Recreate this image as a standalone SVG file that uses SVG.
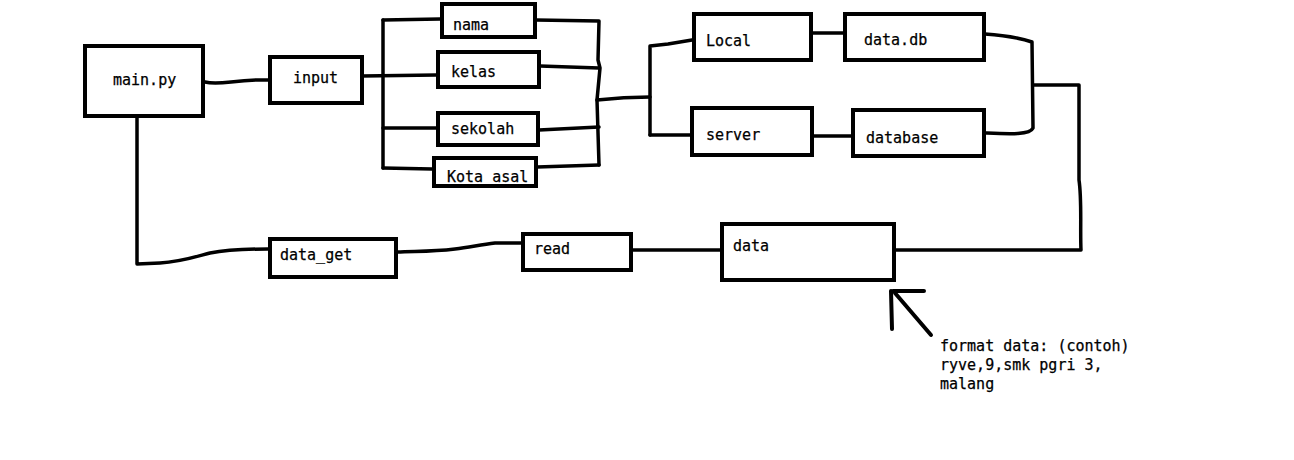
<svg xmlns="http://www.w3.org/2000/svg" width="1294" height="460" viewBox="0 0 1294 460">
  <style>
    .box { fill: #fff; stroke: #000; stroke-width: 4; }
    .wire { fill: none; stroke: #000; stroke-width: 3.5; stroke-linecap: round; stroke-linejoin: round; }
    text { font-family: "DejaVu Sans Mono", "Liberation Mono", monospace; font-size: 15px; fill: #000; stroke: #000; stroke-width: 0.25; }
  </style>
  <rect width="1294" height="460" fill="#fff"/>

  <g id="connectors">
    <!-- main.py -> input -->
    <path class="wire" d="M205,82 C220,86 235,79 268,80"/>
    <!-- input fan-out bus -->
    <path class="wire" d="M383,20 L383,168"/>
    <path class="wire" d="M383,20 L440,19"/>
    <path class="wire" d="M362,76 L436,75"/>
    <path class="wire" d="M383,128 L436,128"/>
    <path class="wire" d="M383,168 L432,169"/>
    <!-- fan-in bus -->
    <path class="wire" d="M536,20 L599,21 L598,60 L600,68 L597,100 L599,165"/>
    <path class="wire" d="M540,66 L599,68"/>
    <path class="wire" d="M539,130 L599,127"/>
    <path class="wire" d="M537,167 L599,165"/>
    <!-- storage split -->
    <path class="wire" d="M597,100 C615,98 630,97 650,97"/>
    <path class="wire" d="M650,135 L650,46 L668,44 L692,40"/>
    <path class="wire" d="M650,135 L690,135"/>
    <path class="wire" d="M812,33 L843,33"/>
    <path class="wire" d="M813,136 L851,136"/>
    <!-- storage merge -->
    <path class="wire" d="M985,34 C1000,35 1020,38 1032,42 L1033,128 C1030,135 1010,134 985,133"/>
    <path class="wire" d="M1033,85 L1079,85 L1079,180 C1082,200 1080,230 1081,250 L895,250"/>
    <!-- data -> read -> data_get -> main.py -->
    <path class="wire" d="M632,250 L720,250"/>
    <path class="wire" d="M521,243 L495,243 C480,245 470,247 455,249 C430,252 415,251 397,252"/>
    <path class="wire" d="M268,249 C250,249 225,250 210,253 C195,257 180,262 160,263 L137,264 L137,118"/>
  </g>

  <g id="main">
    <rect class="box" x="85" y="46" width="118" height="70"/>
    <text x="113" y="85">main.py</text>
  </g>
  <g id="input">
    <rect class="box" x="270" y="57" width="92" height="46"/>
    <text x="293" y="83">input</text>
  </g>
  <g id="nama">
    <rect class="box" x="442" y="4" width="93" height="33"/>
    <text x="453" y="30">nama</text>
  </g>
  <g id="kelas">
    <rect class="box" x="438" y="52" width="101" height="35"/>
    <text x="451" y="77">kelas</text>
  </g>
  <g id="sekolah">
    <rect class="box" x="438" y="113" width="100" height="32"/>
    <text x="451" y="134">sekolah</text>
  </g>
  <g id="kota-asal">
    <rect class="box" x="434" y="158" width="102" height="28"/>
    <text x="447" y="182">Kota asal</text>
  </g>
  <g id="local">
    <rect class="box" x="694" y="14" width="117" height="46"/>
    <text x="706" y="46">Local</text>
  </g>
  <g id="server">
    <rect class="box" x="692" y="108" width="120" height="47"/>
    <text x="706" y="140">server</text>
  </g>
  <g id="data-db">
    <rect class="box" x="845" y="14" width="139" height="46"/>
    <text x="864" y="45">data.db</text>
  </g>
  <g id="database">
    <rect class="box" x="853" y="110" width="131" height="46"/>
    <text x="866" y="143">database</text>
  </g>
  <g id="data">
    <rect class="box" x="722" y="224" width="172" height="56"/>
    <text x="733" y="251">data</text>
  </g>
  <g id="read">
    <rect class="box" x="523" y="234" width="108" height="36"/>
    <text x="534" y="254">read</text>
  </g>
  <g id="data-get">
    <rect class="box" x="270" y="239" width="126" height="38"/>
    <text x="280" y="260">data_get</text>
  </g>

  <g id="note">
    <path class="wire" d="M891,291 L892,329 M893,291 L924,291 M895,293 L931,335" style="stroke-width:4"/>
    <text x="940" y="351">format data: (contoh)</text>
    <text x="940" y="370">ryve,9,smk pgri 3,</text>
    <text x="940" y="389">malang</text>
  </g>
</svg>
